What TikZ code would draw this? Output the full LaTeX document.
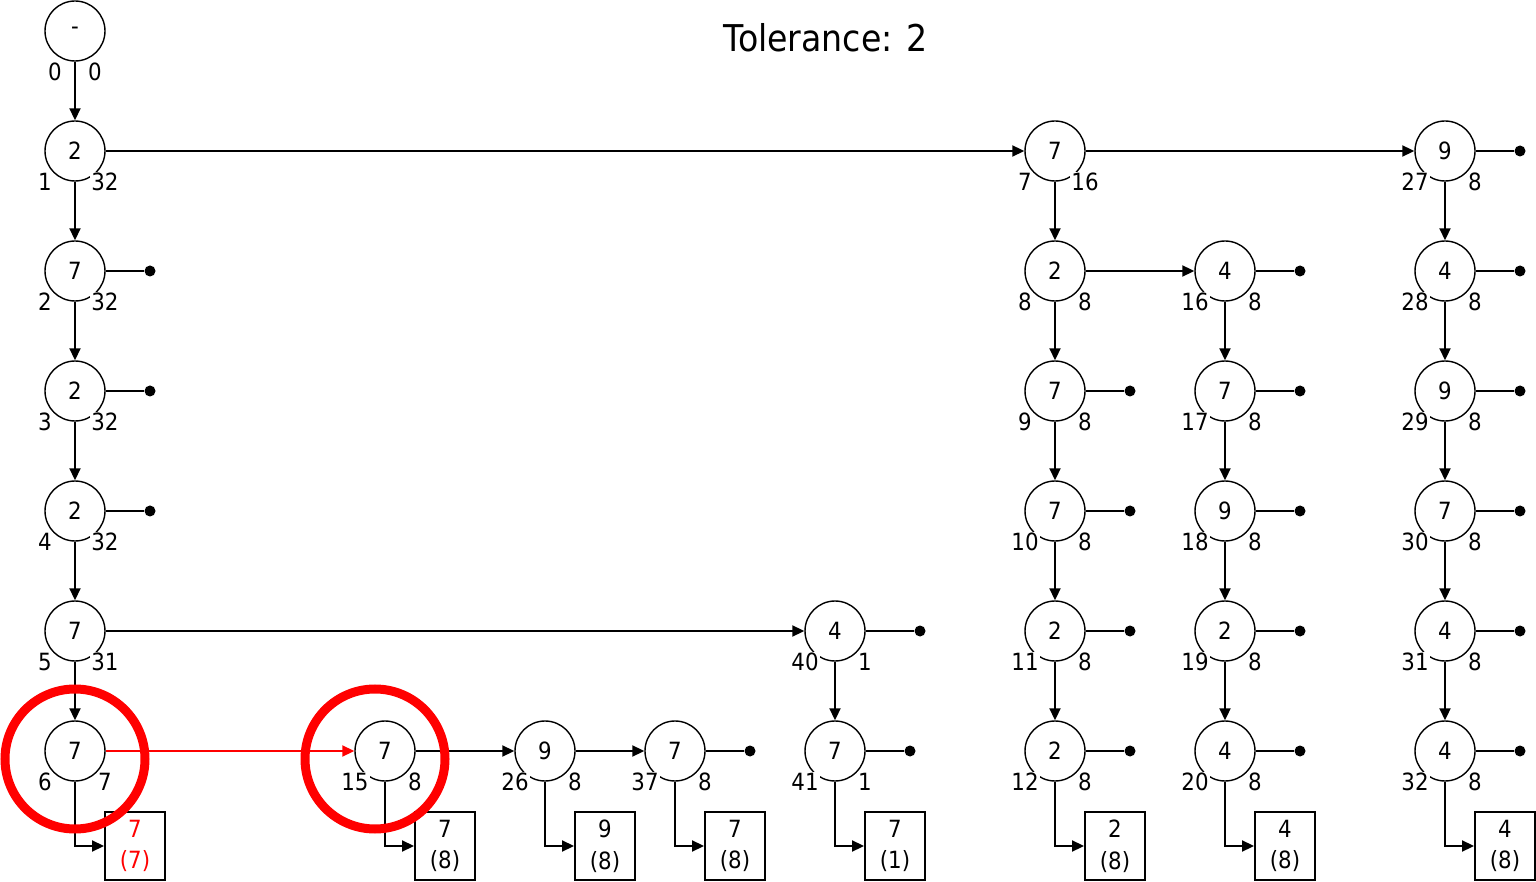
\documentclass[tikz,border=0pt]{standalone}
\usepackage{fontspec}
\setmainfont{DejaVu Sans Condensed}
\usetikzlibrary{arrows.meta,positioning}

% tree node with its two counters below
\newcommand{\tn}[6]{%
  \node[tnode] (#1) at (#2,#3) {#4};
  \node[cnt] at ([shift={(-30,31)}]#1.center) {#5};
  \node[cnt] at ([shift={(30,31)}]#1.center) {#6};}

\begin{document}
\begin{tikzpicture}[
    x=0.2mm, y=-0.2mm,
    tnode/.style={circle, draw, line width=0.8pt, minimum size=1.2cm,
                  inner sep=0pt, font=\fontsize{13.5}{16}\selectfont},
    cnt/.style={fill=white, inner sep=0.6pt, font=\fontsize{13.5}{16}\selectfont},
    leaf/.style={circle, fill, inner sep=0pt, minimum size=2.2mm},
    result/.style={rectangle, draw, line width=1.1pt, minimum width=1.2cm,
                   minimum height=1.36cm, align=center, inner sep=0pt,
                   font=\fontsize{13.5}{18}\selectfont},
    ring/.style={circle, draw=red, line width=1.8mm, minimum size=2.8cm},
    arrow/.style={-{Triangle[length=2.4mm, width=2.2mm]}, line width=1.1pt},
    stub/.style={line width=1.1pt}
]
\useasboundingbox (0,0) rectangle (1536,882);

\node[font=\fontsize{21}{25}\selectfont] (title) at (826,38) {Tolerance: 2};

% first column
\node[tnode] (a0) at (75,31) {-};
\node[cnt] at ([shift={(-20,41)}]a0.center) {0};
\node[cnt] at ([shift={(20,41)}]a0.center) {0};
\tn{a1}{75}{151}{2}{1}{32}
\tn{a2}{75}{271}{7}{2}{32}
\tn{a3}{75}{391}{2}{3}{32}
\tn{a4}{75}{511}{2}{4}{32}
\tn{a5}{75}{631}{7}{5}{31}
\tn{a6}{75}{751}{7}{6}{7}

% bottom row
\tn{b1}{385}{751}{7}{15}{8}
\tn{b2}{545}{751}{9}{26}{8}
\tn{b3}{675}{751}{7}{37}{8}
\tn{c1}{835}{631}{4}{40}{1}
\tn{c2}{835}{751}{7}{41}{1}

% column of 7 (7,16)
\tn{d1}{1055}{151}{7}{7}{16}
\tn{d2}{1055}{271}{2}{8}{8}
\tn{d3}{1055}{391}{7}{9}{8}
\tn{d4}{1055}{511}{7}{10}{8}
\tn{d5}{1055}{631}{2}{11}{8}
\tn{d6}{1055}{751}{2}{12}{8}

\tn{e2}{1225}{271}{4}{16}{8}
\tn{e3}{1225}{391}{7}{17}{8}
\tn{e4}{1225}{511}{9}{18}{8}
\tn{e5}{1225}{631}{2}{19}{8}
\tn{e6}{1225}{751}{4}{20}{8}

\tn{f1}{1445}{151}{9}{27}{8}
\tn{f2}{1445}{271}{4}{28}{8}
\tn{f3}{1445}{391}{9}{29}{8}
\tn{f4}{1445}{511}{7}{30}{8}
\tn{f5}{1445}{631}{4}{31}{8}
\tn{f6}{1445}{751}{4}{32}{8}

% dead ends
\foreach \n/\x/\y in {a2/150/271, a3/150/391, a4/150/511, b3/750/751,
    c1/920/631, c2/910/751, d3/1130/391, d4/1130/511, d5/1130/631,
    d6/1130/751, e2/1300/271, e3/1300/391, e4/1300/511, e5/1300/631,
    e6/1300/751, f1/1520/151, f2/1520/271, f3/1520/391, f4/1520/511,
    f5/1520/631, f6/1520/751}{
  \node[leaf] (\n-end) at (\x,\y) {};
  \draw[stub] (\n) -- (\n-end);
}

% results
\node[result, text=red] (ra6) at (135,846) {7\\(7)};
\node[result] (rb1) at (445,846) {7\\(8)};
\node[result] (rb2) at (605,846) {9\\(8)};
\node[result] (rb3) at (735,846) {7\\(8)};
\node[result] (rc2) at (895,846) {7\\(1)};
\node[result] (rd6) at (1115,846) {2\\(8)};
\node[result] (re6) at (1285,846) {4\\(8)};
\node[result] (rf6) at (1505,846) {4\\(8)};
\foreach \n/\r in {a6/ra6, b1/rb1, b2/rb2, b3/rb3, c2/rc2, d6/rd6, e6/re6, f6/rf6}
  \draw[arrow] (\n) |- (\r);

% links
\foreach \u/\v in {a0/a1, a1/a2, a2/a3, a3/a4, a4/a5, a5/a6, c1/c2,
    d1/d2, d2/d3, d3/d4, d4/d5, d5/d6, e2/e3, e3/e4, e4/e5, e5/e6,
    f1/f2, f2/f3, f3/f4, f4/f5, f5/f6, a1/d1, d1/f1, d2/e2, a5/c1,
    b1/b2, b2/b3}
  \draw[arrow] (\u) -- (\v);
\draw[arrow, red] (a6) -- (b1);

% highlights
\node[ring] (hl1) at (75,759) {};
\node[ring] (hl2) at (375,759) {};
\end{tikzpicture}
\end{document}
